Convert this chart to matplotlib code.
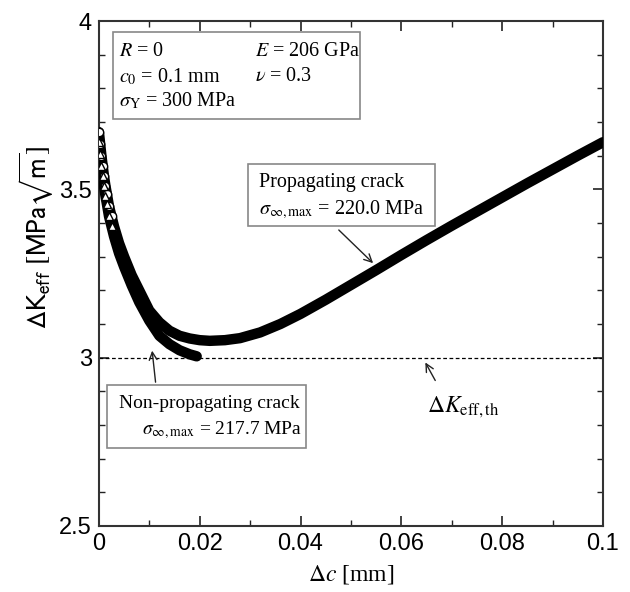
import numpy as np
import matplotlib
matplotlib.use("Agg")
import matplotlib.pyplot as plt
from matplotlib.patches import Rectangle
from matplotlib.ticker import MultipleLocator

# ---- data ----
dc_prop = [0, 0.00025, 0.0005, 0.00075, 0.001, 0.0013, 0.0016, 0.002, 0.0025, 0.003,
           0.004, 0.005, 0.0065, 0.008, 0.01, 0.012, 0.014, 0.016, 0.018, 0.02,
           0.022, 0.025, 0.028, 0.032, 0.036, 0.04, 0.045, 0.05, 0.055, 0.06,
           0.065, 0.07, 0.075, 0.08, 0.085, 0.09, 0.095, 0.1]
k_prop = [3.67, 3.635, 3.60, 3.57, 3.54, 3.51, 3.485, 3.45, 3.42, 3.39,
          3.34, 3.30, 3.245, 3.20, 3.14, 3.105, 3.08, 3.065, 3.057, 3.052,
          3.05, 3.052, 3.058, 3.075, 3.10, 3.13, 3.172, 3.216, 3.26, 3.305,
          3.349, 3.392, 3.434, 3.476, 3.518, 3.559, 3.60, 3.64]

dc_nonprop = [0, 0.00025, 0.0005, 0.00075, 0.001, 0.0013, 0.0016, 0.002, 0.0025, 0.003,
              0.004, 0.005, 0.0065, 0.008, 0.01, 0.012, 0.014, 0.016, 0.018, 0.0194]
k_nonprop = [3.64, 3.605, 3.57, 3.54, 3.51, 3.48, 3.455, 3.42, 3.39, 3.36,
             3.31, 3.27, 3.215, 3.165, 3.11, 3.065, 3.04, 3.022, 3.01, 3.004]

k_threshold = 3.0

xticks = [0, 0.02, 0.04, 0.06, 0.08, 0.1]
xticklabels = ["0", "0.02", "0.04", "0.06", "0.08", "0.1"]
yticks = [2.5, 3.0, 3.5, 4.0]
yticklabels = ["2.5", "3", "3.5", "4"]

SERIF = "Liberation Serif"
SANS = "Liberation Sans"
plt.rcParams["mathtext.fontset"] = "stix"

fig = plt.figure(figsize=(6.3, 5.92), dpi=100)
ax = fig.add_axes([0.157, 0.1115, 0.8, 0.853])

ax.set_xlim(0, 0.1)
ax.set_ylim(2.5, 4.0)

# threshold line
ax.plot([0, 0.1], [k_threshold, k_threshold], color="black", lw=0.9, ls=(0, (3, 2)), zorder=2)

dcp = np.array(dc_prop); kp = np.array(k_prop)
dcn = np.array(dc_nonprop); kn = np.array(k_nonprop)

ax.plot(dcp, kp, color="black", lw=7.5, solid_capstyle="round", solid_joinstyle="round", zorder=3)
ax.plot(dcn, kn, color="black", lw=7.5, solid_capstyle="round", solid_joinstyle="round", zorder=3)
ms = dcp <= 0.0025
ax.plot(dcp[ms], kp[ms], ls="none", marker="o", ms=6, mfc="white", mec="black", mew=1.0, zorder=4)
mn = dcn <= 0.0025
ax.plot(dcn[mn], kn[mn], ls="none", marker="^", ms=6, mfc="white", mec="black", mew=1.0, zorder=4)

# ticks
ax.set_xticks(xticks)
ax.set_xticklabels(xticklabels)
ax.set_yticks(yticks)
ax.set_yticklabels(yticklabels)
ax.xaxis.set_minor_locator(MultipleLocator(0.01))
ax.yaxis.set_minor_locator(MultipleLocator(0.1))
ax.tick_params(which="both", direction="in", top=True, right=True, color="#222222")
ax.tick_params(which="major", length=7, width=1.2, labelsize=17, pad=5)
ax.tick_params(which="minor", length=4, width=1.0)
for lab in ax.get_xticklabels() + ax.get_yticklabels():
    lab.set_family(SANS)
for sp in ax.spines.values():
    sp.set_linewidth(1.5)
    sp.set_color("#333333")

ax.set_xlabel(r"$\Delta c$ [mm]", family=SERIF, fontsize=17, labelpad=6)
ax.set_ylabel(r"$\Delta\mathrm{K}_{\mathrm{eff}}\ [\mathrm{MPa}\sqrt{\mathrm{m}}]$",
              fontsize=19.5, math_fontfamily="stixsans")
ax.yaxis.set_label_coords(-0.085, 0.572)

# parameter box
ax.add_patch(Rectangle((0.0028, 3.709), 0.0490, 0.258, facecolor="white",
                       edgecolor="#888888", lw=1.2, zorder=5))
fs = 14.5
ax.text(0.0040, 3.908, r"$R$ = 0", family=SERIF, fontsize=fs, va="center", zorder=6)
ax.text(0.0040, 3.834, r"$c_0$ = 0.1 mm", family=SERIF, fontsize=fs, va="center", zorder=6)
ax.text(0.0040, 3.762, r"$\sigma_{\mathrm{Y}}$ = 300 MPa", family=SERIF, fontsize=fs, va="center", zorder=6)
ax.text(0.0310, 3.908, r"$E$ = 206 GPa", family=SERIF, fontsize=fs, va="center", zorder=6)
ax.text(0.0310, 3.834, r"$\nu$ = 0.3", family=SERIF, fontsize=fs, va="center", zorder=6)

# propagating box
ax.add_patch(Rectangle((0.0296, 3.391), 0.0371, 0.184, facecolor="white",
                       edgecolor="#888888", lw=1.2, zorder=5))
ax.text(0.0318, 3.52, "Propagating crack", family=SERIF, fontsize=fs, va="center", zorder=6)
ax.text(0.0318, 3.44, r"$\sigma_{\infty,\mathrm{max}}$ = 220.0 MPa", family=SERIF, fontsize=fs,
        va="center", zorder=6)
ax.annotate("", xy=(0.0548, 3.275), xytext=(0.0472, 3.385),
            arrowprops=dict(arrowstyle="->", color="#222222", lw=1.0, mutation_scale=14), zorder=6)

# non-propagating box
ax.add_patch(Rectangle((0.0016, 2.732), 0.0395, 0.187, facecolor="white",
                       edgecolor="#888888", lw=1.2, zorder=5))
fs2 = 14
ax.text(0.0040, 2.865, "Non-propagating crack", family=SERIF, fontsize=fs2, va="center", zorder=6)
ax.text(0.0085, 2.785, r"$\sigma_{\infty,\mathrm{max}}$ = 217.7 MPa", family=SERIF, fontsize=fs2,
        va="center", zorder=6)
ax.annotate("", xy=(0.0105, 3.029), xytext=(0.0113, 2.919),
            arrowprops=dict(arrowstyle="->", color="#222222", lw=1.0, mutation_scale=14), zorder=6)

# threshold label
ax.text(0.0650, 2.851, r"$\Delta K_{\mathrm{eff,th}}$", family=SERIF, fontsize=17, va="center", zorder=6)
ax.annotate("", xy=(0.0645, 2.993), xytext=(0.0670, 2.925),
            arrowprops=dict(arrowstyle="->", color="#222222", lw=1.0, mutation_scale=14), zorder=6)

fig.savefig("out.png", dpi=100)
